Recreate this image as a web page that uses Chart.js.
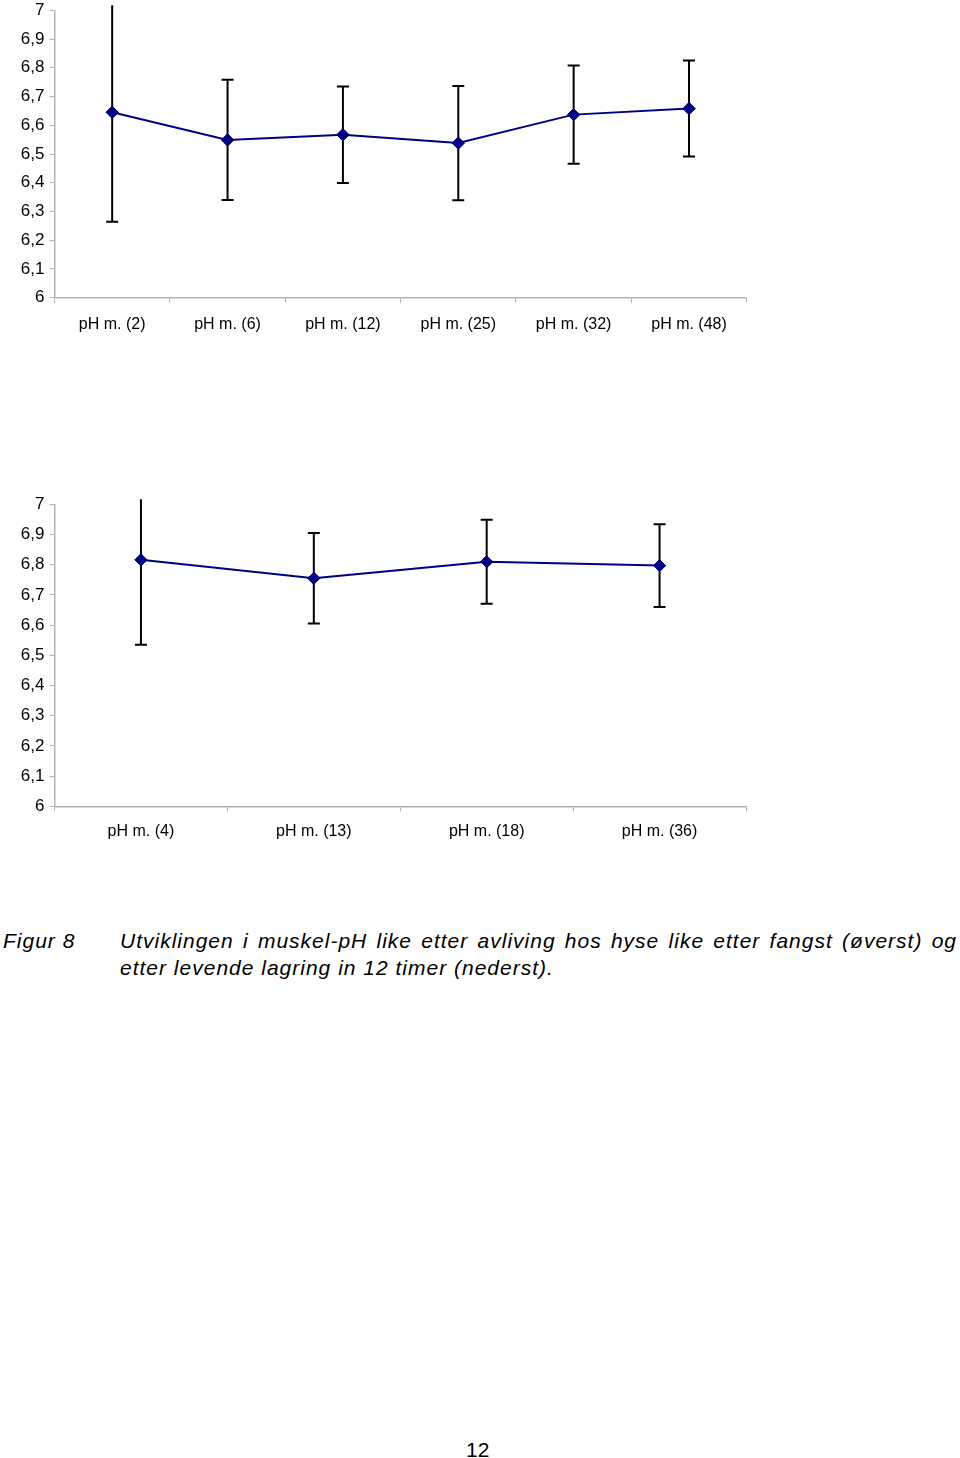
<!DOCTYPE html>
<html>
<head>
<meta charset="utf-8">
<script src="https://cdn.jsdelivr.net/npm/chart.js@4/dist/chart.umd.min.js"></script>
<style>
  html, body { margin: 0; padding: 0; background: #fff; }
  body { width: 960px; height: 1458px; position: relative; overflow: hidden; font-family: "Liberation Sans", Arial, sans-serif; color: #000; }
  .box { position: absolute; }
  .cap { position: absolute; font-style: italic; font-size: 21px; line-height: 27px; letter-spacing: 1px; white-space: nowrap; }
  .justify { text-align: justify; text-align-last: justify; white-space: normal; }
</style>
</head>
<body>
<div class="box" style="left:0; top:0; width:760px; height:340px;"><canvas id="chart-top" width="760" height="340"></canvas></div>
<div class="box" style="left:0; top:480px; width:760px; height:370px;"><canvas id="chart-bottom" width="760" height="370"></canvas></div>

<div class="cap" style="left:3px; top:927px;">Figur 8</div>
<div class="cap justify" style="left:120px; top:927px; width:837px;">Utviklingen i muskel-pH like etter avliving hos hyse like etter fangst (øverst) og</div>
<div class="cap" style="left:120px; top:954px;">etter levende lagring in 12 timer (nederst).</div>
<div class="cap" style="left:466px; top:1436px; font-style:normal; letter-spacing:0;">12</div>

<script>
// pH data (mean ± error)
const topLabels = ["pH m. (2)", "pH m. (6)", "pH m. (12)", "pH m. (25)", "pH m. (32)", "pH m. (48)"];
const topMeans = [6.645, 6.549, 6.567, 6.538, 6.637, 6.658];
const topErrs = [0.381, 0.209, 0.168, 0.199, 0.171, 0.167];

const bottomLabels = ["pH m. (4)", "pH m. (13)", "pH m. (18)", "pH m. (36)"];
const bottomMeans = [6.816, 6.755, 6.810, 6.797];
const bottomErrs = [0.281, 0.150, 0.139, 0.137];

const yTicks = [6, 6.1, 6.2, 6.3, 6.4, 6.5, 6.6, 6.7, 6.8, 6.9, 7];

Chart.defaults.font.family = "'Liberation Sans', Arial, sans-serif";
Chart.defaults.font.size = 16;
Chart.defaults.color = "#000";

// ─────────────────── error bars ───────────────────
// bars are cut a few px above the plot top, like the original
const errorBars = {
  id: "errorBars",
  afterDatasetsDraw(chart) {
    const ctx = chart.ctx;
    const y = chart.scales.y;
    const area = chart.chartArea;
    chart.data.datasets.forEach((ds, di) => {
      const meta = chart.getDatasetMeta(di);
      ctx.save();
      ctx.beginPath();
      ctx.rect(0, area.top - 5, chart.width, chart.height);
      ctx.clip();
      ctx.strokeStyle = "#000";
      ctx.lineWidth = 2;
      meta.data.forEach((pt, i) => {
        const hi = y.getPixelForValue(ds.data[i] + ds.errors[i]);
        const lo = y.getPixelForValue(ds.data[i] - ds.errors[i]);
        ctx.beginPath();
        ctx.moveTo(pt.x, hi); ctx.lineTo(pt.x, lo);
        ctx.moveTo(pt.x - 6, hi); ctx.lineTo(pt.x + 6, hi);
        ctx.moveTo(pt.x - 6, lo); ctx.lineTo(pt.x + 6, lo);
        ctx.stroke();
      });
      ctx.restore();
      // put the marker back on top of the bar
      meta.data.forEach(pt => pt.draw(ctx, chart.chartArea));
    });
  },
};

function makeChart(id, labels, means, errs, pad, xHeight, xPad) {
  return new Chart(document.getElementById(id), {
    type: "line",
    data: {
      labels: labels,
      datasets: [{
        data: means,
        errors: errs,
        borderColor: "#000080",
        backgroundColor: "#000080",
        borderWidth: 2,
        pointStyle: "rectRot",
        pointRadius: 6,
        pointBorderWidth: 1,
        tension: 0,
        clip: false,
      }],
    },
    options: {
      responsive: false,
      animation: false,
      events: [],
      layout: { padding: pad },
      plugins: { legend: { display: false }, tooltip: { enabled: false } },
      scales: {
        x: {
          type: "category",
          offset: true,
          grid: { offset: true, drawOnChartArea: false, color: "#b4b4b4", tickLength: 5 },
          border: { color: "#b4b4b4", width: 1.5 },
          ticks: { padding: xPad, maxRotation: 0, autoSkip: false },
          afterFit: s => { s.height = xHeight; },
        },
        y: {
          min: 6, max: 7,
          afterBuildTicks: s => { s.ticks = yTicks.map(v => ({ value: v })); },
          grid: { drawOnChartArea: false, color: "#b4b4b4", tickLength: 5 },
          border: { color: "#b4b4b4", width: 1.5 },
          ticks: {
            padding: 5,
            font: { size: 17 },
            callback: v => (Number.isInteger(v) ? String(v) : v.toFixed(1).replace(".", ",")),
          },
          afterFit: s => { s.width = 54.5; s.paddingTop = 0; s.paddingBottom = 0; },
        },
      },
    },
    plugins: [errorBars],
  });
}

makeChart("chart-top", topLabels, topMeans, topErrs, { top: 10.3, right: 13.3, left: 0, bottom: 0 }, 42.3, 12);
makeChart("chart-bottom", bottomLabels, bottomMeans, bottomErrs, { top: 24.3, right: 14, left: 0, bottom: 0 }, 43.7, 11);
</script>
</body>
</html>
